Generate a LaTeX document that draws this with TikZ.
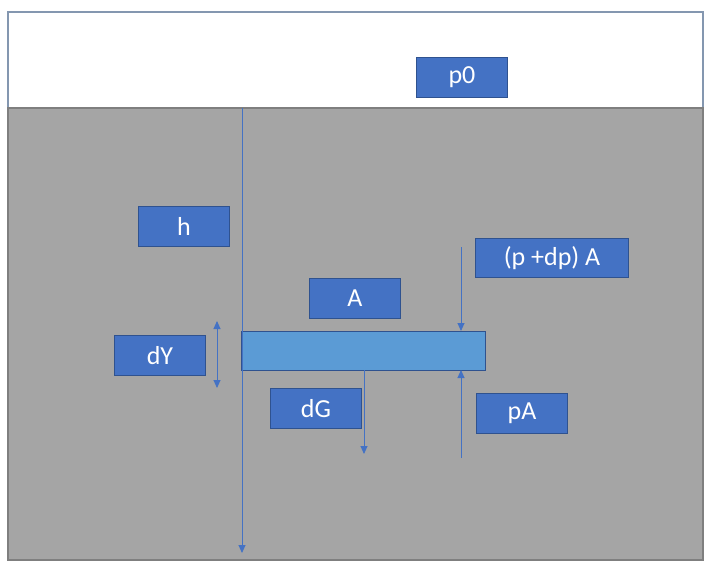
\documentclass[tikz,border=0pt]{standalone}
\usepackage{fontspec}
\setmainfont{Carlito}
\usetikzlibrary{arrows.meta}
\definecolor{boxblue}{HTML}{4472C4}
\definecolor{boxedge}{HTML}{2F528F}
\definecolor{plateblue}{HTML}{5B9BD5}
\definecolor{water}{HTML}{A5A5A5}
\definecolor{wateredge}{HTML}{7F7F7F}
\definecolor{topedge}{HTML}{8497B0}
\tikzset{
  lbl/.style={draw=boxedge, line width=1pt, fill=boxblue, text=white, minimum width=91pt, minimum height=40pt, inner sep=0pt, font=\fontsize{26}{30}\selectfont, anchor=north west},
  arr/.style={draw=boxblue, line width=0.9pt, -{Triangle[length=8pt,width=7pt]}},
  darr/.style={draw=boxblue, line width=0.9pt, {Triangle[length=8pt,width=7pt]}-{Triangle[length=8pt,width=7pt]}}
}
\begin{document}
\begin{tikzpicture}[x=1pt,y=-1pt]
\useasboundingbox (0,0) rectangle (707,568);
\fill[white] (0,0) rectangle (707,568);
% air region
\draw[topedge, line width=1.2pt, fill=white] (8,108) -- (8,12) -- (703,12) -- (703,108);
% water region
\draw[wateredge, line width=1.5pt, fill=water] (8,108) rectangle (703,560);
% plate
\node[draw=boxedge, line width=1pt, fill=plateblue, minimum width=244pt, minimum height=39pt, inner sep=0pt, anchor=north west] (plate) at (241,331) {};
% labels
\node[lbl] (p0) at (416,57) {p0};
\node[lbl] (h) at (138,206) {h};
\node[lbl, minimum width=153pt, minimum height=39pt] (pdpA) at (475,238) {(p +dp) A};
\node[lbl] (A) at (309,278) {A};
\node[lbl] (dY) at (114,335) {dY};
\node[lbl] (dG) at (270,388) {dG};
\node[lbl] (pA) at (476,393) {pA};
% coordinates
\coordinate (hTop) at (242,108);
\coordinate (hBot) at (242,553);
\coordinate (dYtop) at (217,321);
\coordinate (dYbot) at (217,388);
\coordinate (pdpStart) at (461,247);
\coordinate (pdpEnd) at (461,331);
\coordinate (pAStart) at (461,458);
\coordinate (pAEnd) at (461,370);
\coordinate (dGStart) at (364,370);
\coordinate (dGEnd) at (364,454);
% connectors
\draw[arr] (hTop) -- (hBot);
\draw[darr] (dYtop) -- (dYbot);
\draw[arr] (pdpStart) -- (pdpEnd);
\draw[arr] (pAStart) -- (pAEnd);
\draw[arr] (dGStart) -- (dGEnd);
\end{tikzpicture}
\end{document}
